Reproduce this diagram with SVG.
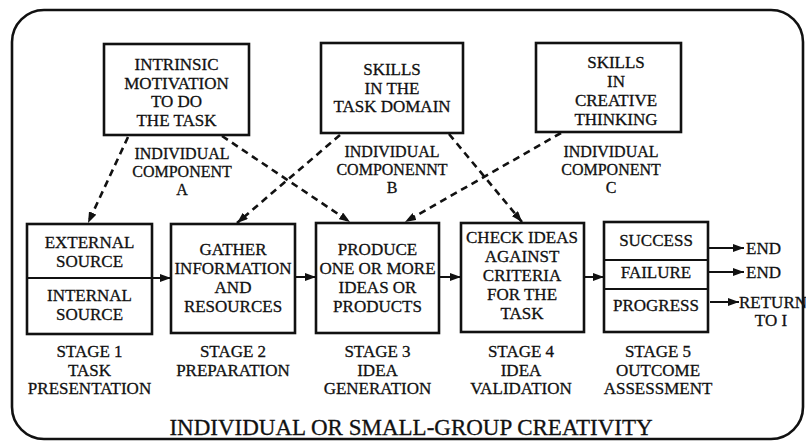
<svg xmlns="http://www.w3.org/2000/svg" width="806" height="443" viewBox="0 0 806 443">
<style>
  .box { fill: #fff; stroke: #111; stroke-width: 2.6; }
  .div { stroke: #111; stroke-width: 2.2; fill: none; }
  .t { font-family: "Liberation Serif", "Times New Roman", serif; font-size: 17px; fill: #111; stroke: #111; stroke-width: 0.3; text-anchor: middle; }
  .c { font-size: 16px; }
  .ts { font-family: "Liberation Serif", "Times New Roman", serif; font-size: 17px; fill: #111; stroke: #111; stroke-width: 0.3; }
  .title { font-family: "Liberation Serif", "Times New Roman", serif; font-size: 23px; fill: #111; stroke: #111; stroke-width: 0.3; text-anchor: middle; }
  .dash { stroke: #111; stroke-width: 2.6; fill: none; stroke-dasharray: 7 5; marker-end: url(#ah); }
  .solid { stroke: #111; stroke-width: 2; fill: none; marker-end: url(#ah); }
</style>
<defs>
  <marker id="ah" viewBox="0 0 11 8" refX="11" refY="4" markerWidth="11" markerHeight="8" markerUnits="userSpaceOnUse" orient="auto">
    <path d="M0,0 L11,4 L0,8 z" fill="#111"/>
  </marker>
</defs>
<rect x="12" y="10" width="791" height="429" rx="32" ry="32" fill="none" stroke="#111" stroke-width="2.6"/>

<g id="compA">
  <rect class="box" x="104" y="44" width="145" height="91"/>
  <text class="t" x="176.5" y="70">INTRINSIC</text>
  <text class="t" x="176.5" y="88.5">MOTIVATION</text>
  <text class="t" x="176.5" y="107">TO DO</text>
  <text class="t" x="176.5" y="125.5">THE TASK</text>
  <text class="t c" x="182" y="159">INDIVIDUAL</text>
  <text class="t c" x="182" y="177">COMPONENT</text>
  <text class="t c" x="182" y="195">A</text>
</g>
<g id="compB">
  <rect class="box" x="321" y="43" width="142" height="90"/>
  <text class="t" x="392" y="75">SKILLS</text>
  <text class="t" x="392" y="94">IN THE</text>
  <text class="t" x="392" y="112">TASK DOMAIN</text>
  <text class="t c" x="392" y="157">INDIVIDUAL</text>
  <text class="t c" x="392" y="175">COMPONENNT</text>
  <text class="t c" x="392" y="193">B</text>
</g>
<g id="compC">
  <rect class="box" x="536" y="43" width="145" height="89"/>
  <text class="t" x="616" y="68">SKILLS</text>
  <text class="t" x="616" y="87">IN</text>
  <text class="t" x="616" y="106">CREATIVE</text>
  <text class="t" x="616" y="125">THINKING</text>
  <text class="t c" x="611" y="157">INDIVIDUAL</text>
  <text class="t c" x="611" y="175">COMPONENT</text>
  <text class="t c" x="611" y="193">C</text>
</g>

<g id="stage1">
  <rect class="box" x="27" y="224" width="125" height="110"/>
  <line class="div" x1="27" y1="278" x2="152" y2="278"/>
  <text class="t" x="89.5" y="248">EXTERNAL</text>
  <text class="t" x="89.5" y="267">SOURCE</text>
  <text class="t" x="89.5" y="301">INTERNAL</text>
  <text class="t" x="89.5" y="320">SOURCE</text>
  <text class="t" x="89.5" y="357">STAGE 1</text>
  <text class="t" x="89.5" y="376">TASK</text>
  <text class="t" x="89.5" y="394">PRESENTATION</text>
</g>
<g id="stage2">
  <rect class="box" x="171" y="224" width="124" height="109"/>
  <text class="t" x="233" y="255">GATHER</text>
  <text class="t" x="233" y="274">INFORMATION</text>
  <text class="t" x="233" y="293">AND</text>
  <text class="t" x="233" y="312">RESOURCES</text>
  <text class="t" x="233" y="357">STAGE 2</text>
  <text class="t" x="233" y="376">PREPARATION</text>
</g>
<g id="stage3">
  <rect class="box" x="316" y="223" width="123" height="110"/>
  <text class="t" x="377.5" y="255">PRODUCE</text>
  <text class="t" x="377.5" y="274">ONE OR MORE</text>
  <text class="t" x="377.5" y="293">IDEAS OR</text>
  <text class="t" x="377.5" y="312">PRODUCTS</text>
  <text class="t" x="377.5" y="357">STAGE 3</text>
  <text class="t" x="377.5" y="376">IDEA</text>
  <text class="t" x="377.5" y="394">GENERATION</text>
</g>
<g id="stage4">
  <rect class="box" x="461" y="223" width="123" height="109"/>
  <text class="t" x="522" y="243">CHECK IDEAS</text>
  <text class="t" x="522" y="262">AGAINST</text>
  <text class="t" x="522" y="281">CRITERIA</text>
  <text class="t" x="522" y="300">FOR THE</text>
  <text class="t" x="522" y="319">TASK</text>
  <text class="t" x="521" y="357">STAGE 4</text>
  <text class="t" x="521" y="376">IDEA</text>
  <text class="t" x="521" y="394">VALIDATION</text>
</g>
<g id="stage5">
  <rect class="box" x="604" y="222" width="104" height="110"/>
  <line class="div" x1="604" y1="260" x2="708" y2="260"/>
  <line class="div" x1="604" y1="289" x2="708" y2="289"/>
  <text class="t" x="656" y="246">SUCCESS</text>
  <text class="t" x="656" y="278">FAILURE</text>
  <text class="t" x="656" y="311">PROGRESS</text>
  <text class="t" x="658" y="357">STAGE 5</text>
  <text class="t" x="658" y="376">OUTCOME</text>
  <text class="t" x="658" y="394">ASSESSMENT</text>
</g>
<g id="outcomes">
  <text class="ts" x="746" y="254">END</text>
  <text class="ts" x="746" y="278">END</text>
  <text class="ts" x="739" y="308">RETURN</text>
  <text class="t" x="771" y="326">TO I</text>
</g>

<g id="connectors">
  <line class="dash" x1="128" y1="137" x2="88" y2="223"/>
  <line class="dash" x1="222" y1="136" x2="350" y2="222"/>
  <line class="dash" x1="340" y1="135" x2="237" y2="223"/>
  <line class="dash" x1="449" y1="134" x2="522" y2="222"/>
  <line class="dash" x1="561" y1="133" x2="405" y2="222"/>
  <line class="solid" x1="152" y1="278" x2="171" y2="278"/>
  <line class="solid" x1="295" y1="277" x2="316" y2="277"/>
  <line class="solid" x1="439" y1="277" x2="461" y2="277"/>
  <line class="solid" x1="584" y1="277" x2="604" y2="277"/>
  <line class="solid" x1="708" y1="248" x2="744" y2="248"/>
  <line class="solid" x1="708" y1="272" x2="744" y2="272"/>
  <line class="solid" x1="710" y1="302" x2="739" y2="302"/>
</g>

<text class="title" x="411" y="435">INDIVIDUAL OR SMALL-GROUP CREATIVITY</text>
</svg>
